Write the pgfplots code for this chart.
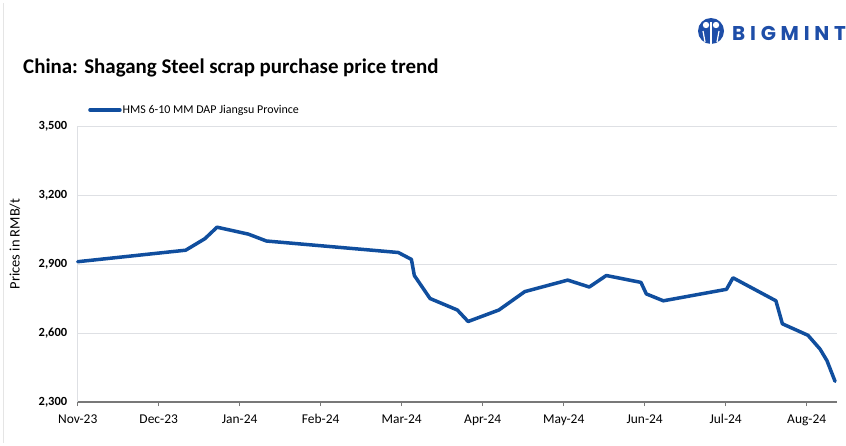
\documentclass[border=0pt]{standalone}
\usepackage{fontspec}
\setmainfont{Carlito}
\newfontfamily\logofont{Poppins}[LetterSpace=24]
\usepackage{pgfplots}
\pgfplotsset{compat=1.18}

\definecolor{seriesblue}{RGB}{16,78,158}
\definecolor{logoblue}{RGB}{30,78,168}
\definecolor{gridgray}{RGB}{222,224,228}
\definecolor{axisgray}{RGB}{120,120,120}

\begin{document}
\begin{tikzpicture}
\useasboundingbox (0,0) rectangle (846bp,-446bp);
\fill[white] (0,0) rectangle (846bp,-446bp);
\draw[gray!20, line width=0.8bp] (3.5bp,-3bp) -- (3.5bp,-443bp);

% title and logo
\node[anchor=base west, inner sep=0pt] at (23bp,-73bp)
  {\fontsize{21}{24}\selectfont\bfseries China: Shagang Steel scrap purchase price trend};
\fill[logoblue] (711bp,-31bp) circle (13bp);
\fill[white] (706bp,-25bp) circle (3.2bp) (716bp,-25bp) circle (3.2bp);
\draw[white, line width=1.6bp] (711bp,-22bp) -- (711bp,-44bp);
\draw[white, line width=1.2bp] (703bp,-31bp) -- (705bp,-42bp) (719bp,-31bp) -- (717bp,-42bp);
\node[anchor=base west, inner sep=0pt, text=logoblue] at (732bp,-40bp)
  {\logofont\fontsize{20}{22}\selectfont\bfseries BIGMINT};

% y label
\node[rotate=90, inner sep=0pt] at (15bp,-244bp)
  {\fontsize{14.5}{16}\selectfont Prices in RMB/t};

\begin{axis}[
    at={(77.7bp,-402bp)},
    anchor=south west,
    scale only axis,
    width=759.6bp,
    height=276bp,
    xmin=0, xmax=9.378,
    ymin=2300, ymax=3500,
    axis x line*=bottom,
    axis y line*=left,
    x axis line style={-, draw=axisgray, line width=1.5bp},
    y axis line style={-, draw=gridgray, line width=1bp},
    xtick={0,1,2,3,4,5,6,7,8,9},
    xticklabels={Nov-23,Dec-23,Jan-24,Feb-24,Mar-24,Apr-24,May-24,Jun-24,Jul-24,Aug-24},
    ytick={2300,2600,2900,3200,3500},
    tick align=outside,
    major tick length=4bp,
    x tick style={draw=axisgray, line width=1bp},
    y tick style={draw=none},
    ymajorgrids,
    grid style={draw=gridgray, line width=1bp},
    /pgf/number format/assume math mode=true,
    /pgf/number format/1000 sep={,},
    xticklabel style={font=\fontsize{13.5}{15}\selectfont, yshift=-5bp},
    yticklabel style={font=\fontsize{12.5}{14}\selectfont\bfseries, xshift=-3bp},
    clip=false,
    legend style={
        at={(0.0136,1.058)}, anchor=west,
        draw=none, fill=none, inner sep=0pt,
        font=\fontsize{12}{14}\selectfont,
        nodes={inner sep=1bp},
    },
    legend image code/.code={\draw[#1] (0bp,0bp) -- (30bp,0bp);},
]
\addplot[seriesblue, line width=3.5bp, line join=round, line cap=round] coordinates {
    (0.000, 2910)
    (1.333, 2960)
    (1.570, 3010)
    (1.720, 3060)
    (2.106, 3030)
    (2.330, 3000)
    (3.958, 2950)
    (4.120, 2920)
    (4.156, 2850)
    (4.350, 2750)
    (4.687, 2700)
    (4.820, 2650)
    (5.200, 2700)
    (5.520, 2780)
    (6.050, 2830)
    (6.316, 2800)
    (6.526, 2850)
    (6.954, 2820)
    (7.020, 2770)
    (7.230, 2740)
    (8.010, 2790)
    (8.090, 2840)
    (8.620, 2740)
    (8.700, 2640)
    (9.016, 2590)
    (9.165, 2530)
    (9.250, 2480)
    (9.350, 2390)
};
\addlegendentry{HMS 6-10 MM DAP Jiangsu Province}
\end{axis}
\end{tikzpicture}
\end{document}
